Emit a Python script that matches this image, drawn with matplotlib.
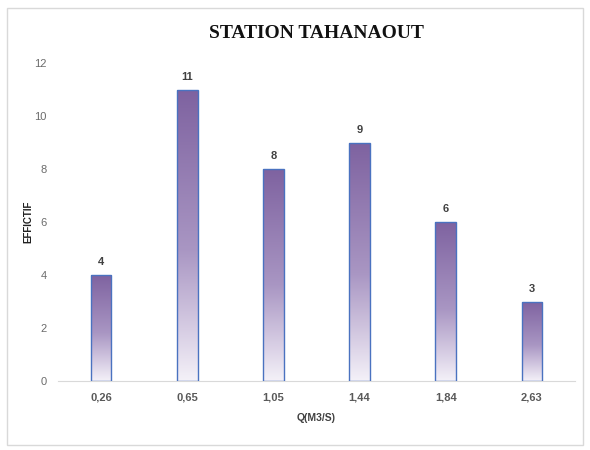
import numpy as np
import matplotlib
matplotlib.use("Agg")
import matplotlib.pyplot as plt
from matplotlib.colors import LinearSegmentedColormap
from matplotlib.patches import Rectangle

# class discharge values and counts
classes = ["0,26", "0,65", "1,05", "1,44", "1,84", "2,63"]
counts = [4, 11, 8, 9, 6, 3]

title = "STATION TAHANAOUT"
xlabel = "Q(M3/S)"
ylabel = "EFFICTIF"

fig = plt.figure(figsize=(5.9, 4.5), dpi=100)
# light frame around the whole chart
fig.patches.append(Rectangle((0.012, 0.011), 0.976, 0.971, transform=fig.transFigure,
                             fill=False, edgecolor="#d9d9d9", linewidth=1.0))

ax = fig.add_axes([0.0983, 0.1533, 0.8763, 0.7067])

# purple fading to white from top to bottom of each bar
cmap = LinearSegmentedColormap.from_list(
    "fade", [(0.0, "#f4f1f8"), (0.18, "#d6cce3"), (0.45, "#a996c3"), (1.0, "#7e62a0")])
grad = np.linspace(0, 1, 256).reshape(-1, 1)

x = np.arange(len(classes))
width = 0.24
bars = ax.bar(x, counts, width=width, color="none", edgecolor="#4a72c0", linewidth=1.0, zorder=3)
for b, v in zip(bars, counts):
    x0 = b.get_x()
    im = ax.imshow(grad, cmap=cmap, aspect="auto", origin="lower",
                   extent=(x0, x0 + width, 0, v), zorder=2)
    im.set_clip_path(b)
    ax.text(b.get_x() + width / 2, v + 0.3, str(v), ha="center", va="bottom",
            fontsize=8, fontweight="bold", color="#404040", family="Liberation Sans")

ax.set_xlim(-0.5, len(classes) - 0.5)
ax.set_ylim(0, 12)
ax.set_yticks(range(0, 13, 2))
ax.set_xticks(x)
ax.set_xticklabels(classes, fontsize=8, fontweight="bold", color="#595959", family="Liberation Sans")
for t in ax.get_yticklabels():
    t.set_fontsize(8)
    t.set_color("#6b6b6b")
    t.set_family("Liberation Sans")
ax.tick_params(axis="x", length=0, pad=8)
ax.tick_params(axis="y", length=0, pad=8)

for s in ["top", "right", "left"]:
    ax.spines[s].set_visible(False)
ax.spines["bottom"].set_color("#d9d9d9")

ax.set_xlabel(xlabel, fontsize=7.5, fontweight="bold", color="#404040", family="Liberation Sans", labelpad=8)
ax.set_ylabel(ylabel, fontsize=7, fontweight="bold", color="#202020", family="Liberation Sans")
ax.yaxis.set_label_coords(-0.048, 0.5)

fig.text(0.536, 0.926, title, ha="center", va="center", fontsize=14, fontweight="bold",
         family="Liberation Serif", color="#111111")

fig.savefig("out.png", dpi=100)
